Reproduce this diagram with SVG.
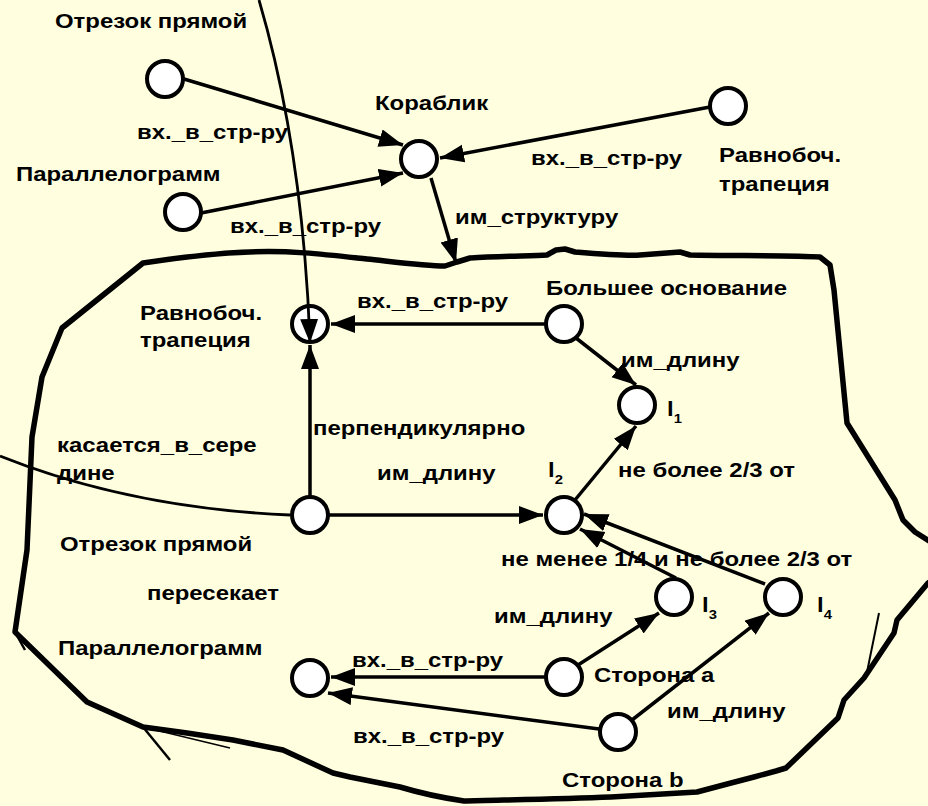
<svg xmlns="http://www.w3.org/2000/svg" width="928" height="806" viewBox="0 0 928 806">
<defs>
<style>
.bg{fill:#FFFFE0}
.n{fill:#FFFFFF;stroke:#000;stroke-width:4}
.e{fill:none;stroke:#000;stroke-width:3.5}
.c{fill:none;stroke:#000;stroke-width:2.8}
.b{fill:none;stroke:#000;stroke-width:5.5;stroke-linejoin:round}
.t{font-family:"Liberation Sans",Arial,sans-serif;font-weight:bold;font-size:21px;fill:#000}
.s{font-size:13px}
</style>
<marker id="ah" markerUnits="userSpaceOnUse" markerWidth="26" markerHeight="20" refX="24" refY="9" orient="auto">
<path d="M0,0 L24,9 L0,18 z" fill="#000"/>
</marker>
</defs>
<rect class="bg" x="0" y="0" width="928" height="806"/>

<g id="region">
<path class="b" d="M143,263 C170,259 215,253 250,252 C290,250 330,255 367,259 C395,262 425,266 445,266 L457,262 L470,258 C500,256 530,256 547,255 L556,250 L565,249 L575,252 C600,254 625,256 640,255 L680,252 L690,255 C730,256 790,255 820,257 L830,265 L834,290 L847,423 L895,500 L903,520 L915,532 L940,548 L945,560 L940,575 L928,583 L897,620 L894,633 L864,678 L844,700 L838,718 L786,768 L776,771 L754,777 L731,783 L697,792 L611,797 C560,799 500,800 464,801 C430,796 410,790 400,787 L350,777 L333,773 L283,750 L233,740 L187,733 L143,727 L87,702 L15,632 L27,550 L32,437 L42,377 L62,328 Z"/>
<path d="M879,613 L866,677" stroke="#000" stroke-width="2" fill="none"/>
<path d="M143,727 L230,748" stroke="#000" stroke-width="1.5" fill="none"/>
<path d="M143,727 L170,760" stroke="#000" stroke-width="2.5" fill="none"/>
<path d="M15,632 L20,598 M15,632 L25,650" stroke="#000" stroke-width="2.5" fill="none"/>
</g>

<g id="nodes">
<g id="otr-top"><circle class="n" cx="165" cy="79" r="18"/><text class="t" transform="translate(55,28) scale(1.14,1)">Отрезок прямой</text></g>
<g id="par-top"><circle class="n" cx="183" cy="212" r="18"/><text class="t" transform="translate(16,181) scale(1.14,1)">Параллелограмм</text></g>
<g id="korablik"><circle class="n" cx="419" cy="159" r="18"/><text class="t" transform="translate(375,110) scale(1.14,1)">Кораблик</text></g>
<g id="trap-top"><circle class="n" cx="728" cy="106" r="18"/><text class="t" transform="translate(719,162) scale(1.14,1)">Равнобоч.</text><text class="t" transform="translate(719,191) scale(1.14,1)">трапеция</text></g>
<g id="trap-in"><circle class="n" cx="310" cy="324" r="18"/><text class="t" transform="translate(140,320) scale(1.14,1)">Равнобоч.</text><text class="t" transform="translate(140,347) scale(1.14,1)">трапеция</text></g>
<g id="bolshee"><circle class="n" cx="564" cy="324" r="18"/><text class="t" transform="translate(546,295) scale(1.14,1)">Большее основание</text></g>
<g id="l1"><circle class="n" cx="637" cy="405" r="18"/><text class="t" transform="translate(667,416) scale(1.14,1)">l<tspan class="s" dy="7">1</tspan></text></g>
<g id="otr-in"><circle class="n" cx="310" cy="515" r="18"/><text class="t" transform="translate(60,551) scale(1.14,1)">Отрезок прямой</text></g>
<g id="l2"><circle class="n" cx="564" cy="515" r="18"/><text class="t" transform="translate(548,477) scale(1.14,1)">l<tspan class="s" dy="7">2</tspan></text></g>
<g id="l3"><circle class="n" cx="674" cy="597" r="18"/><text class="t" transform="translate(702,612) scale(1.14,1)">l<tspan class="s" dy="7">3</tspan></text></g>
<g id="l4"><circle class="n" cx="783" cy="597" r="18"/><text class="t" transform="translate(817,612) scale(1.14,1)">l<tspan class="s" dy="7">4</tspan></text></g>
<g id="storona-a"><circle class="n" cx="564" cy="677" r="18"/><text class="t" transform="translate(594,682) scale(1.14,1)">Сторона a</text></g>
<g id="storona-b"><circle class="n" cx="618" cy="732" r="18"/><text class="t" transform="translate(562,787) scale(1.14,1)">Сторона b</text></g>
<g id="par-in"><circle class="n" cx="310" cy="678" r="18"/><text class="t" transform="translate(58,655) scale(1.14,1)">Параллелограмм</text></g>
</g>

<g id="connectors">
<path class="c" d="M259,0 Q303,150 310,343" marker-end="url(#ah)"/>
<path class="c" d="M0,456 Q130,508 290,515"/>
<line class="e" x1="184" y1="79" x2="403" y2="145" marker-end="url(#ah)"/>
<line class="e" x1="201" y1="213" x2="403" y2="173" marker-end="url(#ah)"/>
<line class="e" x1="710" y1="107" x2="440" y2="158" marker-end="url(#ah)"/>
<line class="e" x1="431" y1="178" x2="456" y2="263" marker-end="url(#ah)"/>
<line class="e" x1="545" y1="324" x2="331" y2="324" marker-end="url(#ah)"/>
<line class="e" x1="310" y1="496" x2="310" y2="345" marker-end="url(#ah)"/>
<line class="e" x1="576" y1="338" x2="636" y2="385" marker-end="url(#ah)"/>
<line class="e" x1="575" y1="500" x2="636" y2="426" marker-end="url(#ah)"/>
<line class="e" x1="329" y1="515" x2="543" y2="515" marker-end="url(#ah)"/>
<line class="e" x1="676" y1="578" x2="580" y2="529" marker-end="url(#ah)"/>
<line class="e" x1="765" y1="584" x2="584" y2="514" marker-end="url(#ah)"/>
<line class="e" x1="578" y1="665" x2="659" y2="613" marker-end="url(#ah)"/>
<line class="e" x1="632" y1="720" x2="769" y2="613" marker-end="url(#ah)"/>
<line class="e" x1="545" y1="677" x2="331" y2="677" marker-end="url(#ah)"/>
<line class="e" x1="599" y1="729" x2="328" y2="693" marker-end="url(#ah)"/>
<text class="t" transform="translate(137,139) scale(1.14,1)">вх._в_стр-ру</text>
<text class="t" transform="translate(230,233) scale(1.14,1)">вх._в_стр-ру</text>
<text class="t" transform="translate(531,165) scale(1.14,1)">вх._в_стр-ру</text>
<text class="t" transform="translate(455,224) scale(1.14,1)">им_структуру</text>
<text class="t" transform="translate(357,308) scale(1.14,1)">вх._в_стр-ру</text>
<text class="t" transform="translate(621,367) scale(1.14,1)">им_длину</text>
<text class="t" transform="translate(313,435) scale(1.14,1)">перпендикулярно</text>
<text class="t" transform="translate(57,452) scale(1.14,1)">касается_в_сере</text>
<text class="t" transform="translate(57,480) scale(1.14,1)">дине</text>
<text class="t" transform="translate(377,480) scale(1.14,1)">им_длину</text>
<text class="t" transform="translate(618,477) scale(1.14,1)">не более 2/3 от</text>
<text class="t" transform="translate(501,566) scale(1.14,1)">не менее 1/4 и не более 2/3 от</text>
<text class="t" transform="translate(147,600) scale(1.14,1)">пересекает</text>
<text class="t" transform="translate(494,623) scale(1.14,1)">им_длину</text>
<text class="t" transform="translate(352,667) scale(1.14,1)">вх._в_стр-ру</text>
<text class="t" transform="translate(667,718) scale(1.14,1)">им_длину</text>
<text class="t" transform="translate(353,743) scale(1.14,1)">вх._в_стр-ру</text>
</g>
</svg>
